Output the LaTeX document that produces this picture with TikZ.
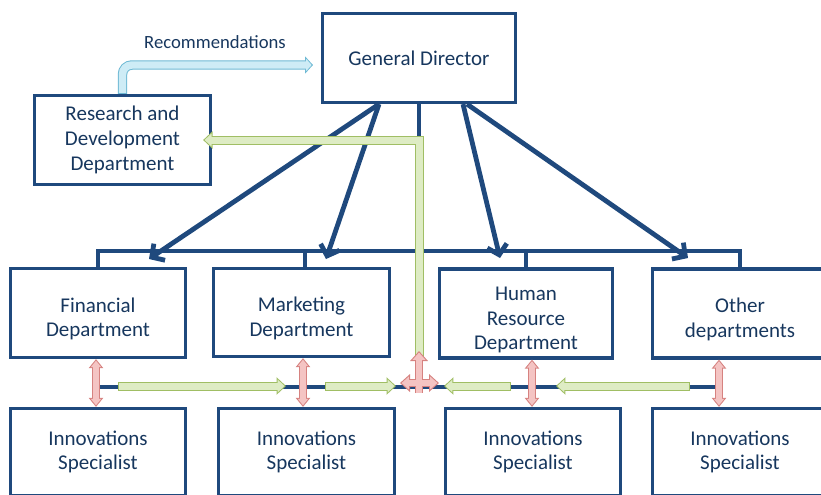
\documentclass[tikz,border=0pt]{standalone}
\usepackage{fontspec}
\setmainfont{Carlito}
\usetikzlibrary{arrows.meta, positioning, calc}
\definecolor{navyline}{RGB}{31,73,125}
\definecolor{navytext}{RGB}{23,55,94}
\definecolor{greenedge}{RGB}{160,190,100}
\definecolor{greenfill}{RGB}{222,236,196}
\definecolor{rededge}{RGB}{214,130,128}
\definecolor{redfill}{RGB}{244,196,195}
\definecolor{blueedge}{RGB}{110,185,212}
\definecolor{bluefill}{RGB}{206,236,246}
\newcommand{\deptgap}{\rule{0pt}{20pt}}

\begin{document}
\begin{tikzpicture}[
    x=0.75pt, y=-0.75pt,
    unit/.style={rectangle, draw=navyline, line width=2.4pt, fill=white, align=center, text=navytext, font=\fontsize{15.75}{18.5}\selectfont, inner sep=0pt},
    tree/.style={draw=navyline, line width=2.5pt},
    order/.style={draw=navyline, line width=3.6pt, -{Straight Barb[length=7pt,width=15pt]}},
    greenout/.style={draw=greenedge, line width=6.75pt, >={Triangle[length=7.1pt,width=12.75pt]}},
    greenin/.style={draw=greenfill, line width=5.25pt, >={Triangle[length=5.2pt,width=9.4pt]}, shorten >=1.1pt, shorten <=0.75pt},
    redout/.style={draw=rededge, line width=6pt, >={Triangle[length=6.75pt,width=10.5pt]}},
    redin/.style={draw=redfill, line width=4.5pt, >={Triangle[length=4.8pt,width=7.4pt]}, shorten >=1.2pt, shorten <=1.2pt},
    hubout/.style={draw=rededge, line width=6.4pt, >={Triangle[length=7.5pt,width=13pt]}},
    hubin/.style={draw=redfill, line width=4.9pt, >={Triangle[length=5.5pt,width=9.5pt]}, shorten >=1.2pt, shorten <=1.2pt},
    blueout/.style={draw=blueedge, line width=7.1pt, >={Triangle[length=6pt,width=12.75pt]}, rounded corners=7pt},
    bluein/.style={draw=bluefill, line width=5.6pt, >={Triangle[length=4.2pt,width=9pt]}, shorten >=1pt, shorten <=0.75pt, rounded corners=7pt}
]
    \useasboundingbox (0,0) rectangle (821,494);

    % Top level
    \node[unit, minimum width=144.75pt, minimum height=66.75pt] (gd) at (419,58) {General Director};
    \node[unit, minimum width=132pt, minimum height=66.75pt] (rnd) at (122.5,140) {Research and\\Development\\Department};

    % Departments
    \node[unit, minimum width=131.25pt, minimum height=66.75pt] (fin) at (98,313) {\deptgap Financial\\Department};
    \node[unit, minimum width=132pt, minimum height=66pt] (mkt) at (301.5,312.5) {\deptgap Marketing\\Department};
    \node[unit, minimum width=129.75pt, minimum height=66.75pt] (hr) at (526,313.5) {\deptgap Human\\Resource\\Department};
    \node[unit, minimum width=131.25pt, minimum height=66.75pt] (oth) at (740,313.5) {\deptgap Other\\departments};

    % Innovations specialists
    \node[unit, minimum width=131.25pt, minimum height=65.25pt] (spec1) at (98,452) {Innovations\\Specialist};
    \node[unit, minimum width=132pt, minimum height=65.25pt] (spec2) at (306.5,452) {Innovations\\Specialist};
    \node[unit, minimum width=131.25pt, minimum height=65.25pt] (spec3) at (533,452) {Innovations\\Specialist};
    \node[unit, minimum width=131.25pt, minimum height=65.25pt] (spec4) at (740,452) {Innovations\\Specialist};

    % Tree lines
    \coordinate (bus) at (419,251);
    \coordinate (mid) at (419,387);
    \draw[tree] (gd.south) -- (bus);
    \draw[tree] (fin.north) -- (fin.north |- bus) -- (oth.north |- bus) -- (oth.north);
    \draw[tree] (305,251) -- (mkt.north -| 305,0);
    \draw[tree] (hr.north |- bus) -- (hr.north);
    \draw[tree] (fin.south |- mid) -- (717,387);

    % Orders from the director
    \coordinate (o1) at (149,259);
    \coordinate (o2) at (326,259);
    \coordinate (o3) at (500,258);
    \coordinate (o4) at (688,258);
    \draw[order] ($(gd.south)+(-40,0)$) -- (o1);
    \draw[order] ($(gd.south)+(-40,0)$) -- (o2);
    \draw[order] ($(gd.south)+(44,0)$) -- (o3);
    \draw[order] ($(gd.south)+(48,0)$) -- (o4);

    % Recommendations
    \coordinate (rec) at (313,65);
    \draw[blueout, ->] (rnd.north) |- (rec);
    \draw[bluein, ->] (rnd.north) |- (rec);
    \node[text=navytext, font=\fontsize{14}{17}\selectfont] (reclabel) at (215,42) {Recommendations};

    % Ideas flow
    \coordinate (up) at (419,351);
    \coordinate (back) at ($(rnd.east)+(-9,0)$);
    \coordinate (g1a) at (118,386);
    \coordinate (g1b) at (286,386);
    \coordinate (g2a) at (325,386);
    \coordinate (g2b) at (396,386);
    \coordinate (g3a) at (511,386);
    \coordinate (g3b) at (444,386);
    \coordinate (g4a) at (690,386);
    \coordinate (g4b) at (556,386);
    \foreach \a/\b in {g1a/g1b, g2a/g2b, g3a/g3b, g4a/g4b} {
        \draw[greenout, ->] (\a) -- (\b);
        \draw[greenin, ->] (\a) -- (\b);
    }
    \draw[greenout, ->, line join=miter] ($(up)+(0,6)$) |- (back);
    \draw[greenin, ->, line join=miter] ($(up)+(0,6)$) |- (back);

    % Exchange with specialists
    \foreach \x/\s/\t in {96/fin/spec1, 303/mkt/spec2, 532/hr/spec3, 719/oth/spec4} {
        \draw[redout, <->] (\s.south -| \x,0) -- (\t.north -| \x,0);
        \draw[redin, <->] (\s.south -| \x,0) -- (\t.north -| \x,0);
    }
    \draw[hubout, ->] (419,393) -- (up);
    \draw[hubout, <->] (400,383) -- (439,383);
    \draw[hubin, ->, shorten <=0pt] (419,393) -- (up);
    \draw[hubin, <->] (400,383) -- (439,383);

\end{tikzpicture}
\end{document}
